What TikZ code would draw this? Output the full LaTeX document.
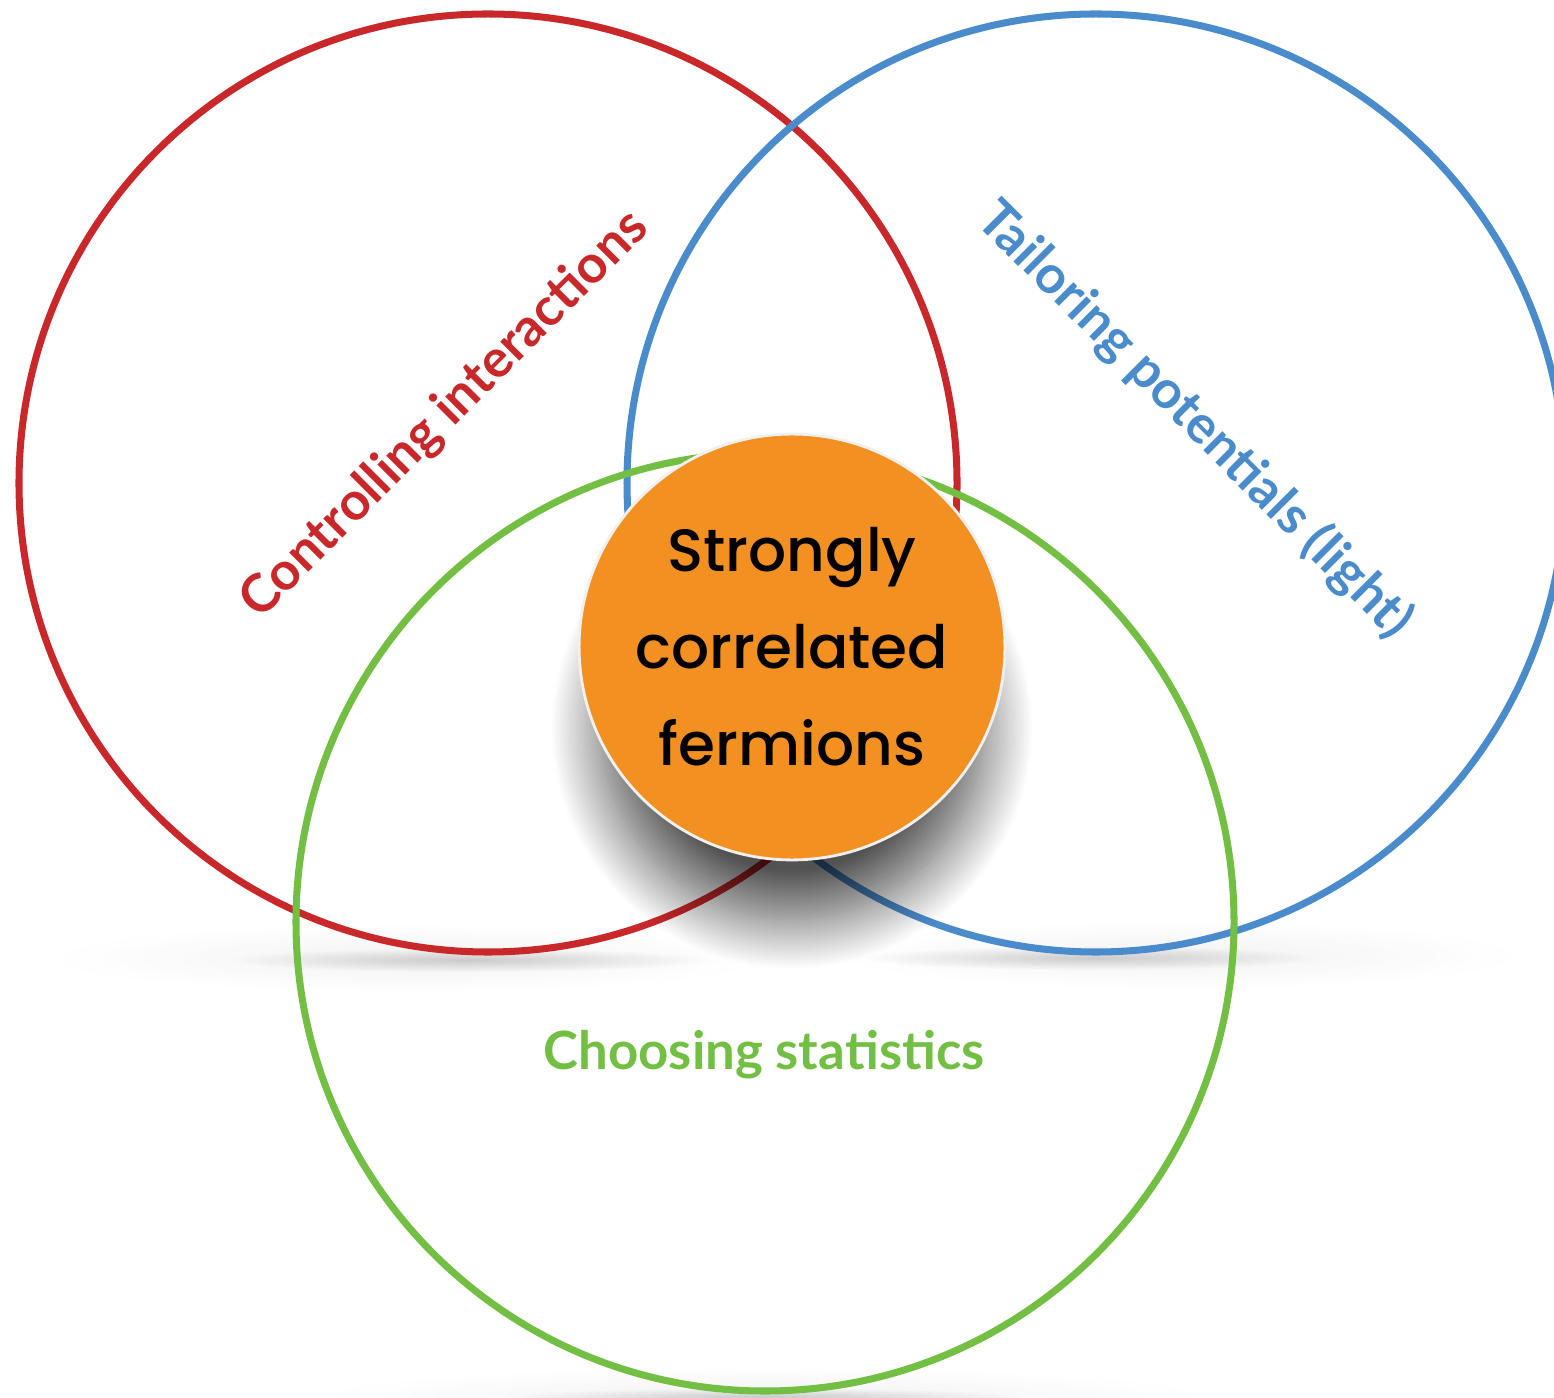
\documentclass[tikz,border=0pt]{standalone}
\usepackage{fontspec}
\usepackage{tikz}
\usetikzlibrary{shadows.blur}
\usetikzlibrary{fadings}

\newfontfamily\venfont{Lato}
\newfontfamily\handfont{Poppins Medium}

\definecolor{venred}{RGB}{201,40,42}
\definecolor{venblue}{RGB}{74,139,203}
\definecolor{vengreen}{RGB}{114,191,68}
\definecolor{venorange}{RGB}{242,145,34}

\tikzfading[name=softspot, inner color=transparent!0, outer color=transparent!100]

\begin{document}
\begin{tikzpicture}[line width=2pt,
    venlabel/.style={font=\venfont\bfseries\fontsize{15}{18}\selectfont},
    floor/.style={fill=black!70, path fading=softspot}
    ]
\edef\r{4.69}
\useasboundingbox (0,0) rectangle (15.54,13.97);

% soft floor under the rings
\fill[floor, opacity=0.07] (4.1,4.39) ellipse (3.6 and 0.34);
\fill[floor, opacity=0.25] (4.7,4.37) ellipse (2.4 and 0.12);
\fill[floor, opacity=0.07] (11.8,4.42) ellipse (3.4 and 0.34);
\fill[floor, opacity=0.25] (10.9,4.39) ellipse (2.3 and 0.12);
\fill[floor, opacity=0.07] (7.65,0.02) ellipse (4.4 and 0.28);
\fill[floor, opacity=0.25] (7.65,0.0) ellipse (2.6 and 0.09);

\draw[venred] (4.88,9.14) circle (\r);
\draw[venblue] (10.96,9.14) circle (\r);
\draw[vengreen] (7.65,4.75) circle (\r);

\node[venlabel, text=venred, rotate=45] (ctrl) at (4.45,9.82) {Controlling interactions};
\node[venlabel, text=venblue, rotate=-45] (tailor) at (11.95,9.77) {Tailoring potentials (light)};
\node[venlabel, text=vengreen] (stat) at (7.64,3.42) {Choosing statistics};

\node[circle, fill=venorange, draw=black!6, line width=0.8pt, minimum size=4.16cm,
    align=center, font=\handfont\fontsize{17}{27.6}\selectfont,
    blur shadow={shadow xshift=0pt, shadow yshift=-0.9cm, shadow scale=0.9,
      shadow blur radius=0.55cm, shadow blur steps=40, shadow opacity=68}] (core) at (7.92,7.50)
    {Strongly\\correlated\\fermions};
\end{tikzpicture}
\end{document}
